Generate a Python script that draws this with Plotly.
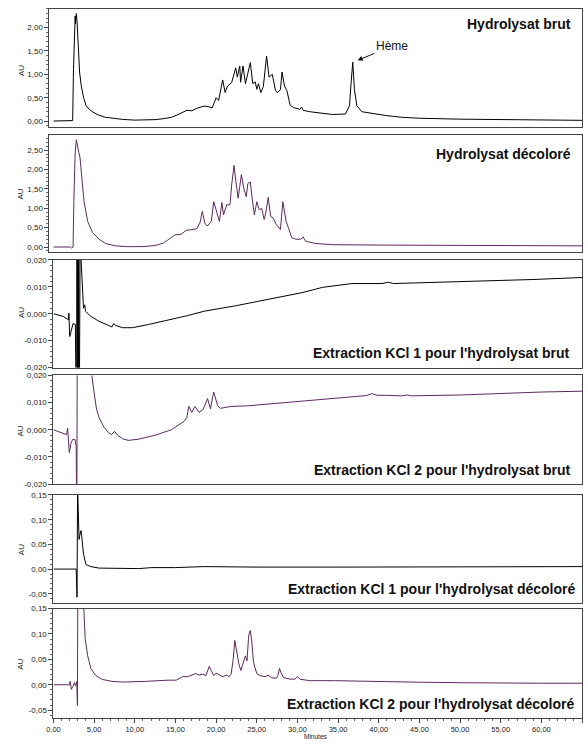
import plotly.graph_objects as go

# ---------------- data ----------------
t1 = [0.0, 2.2, 2.35, 2.45, 2.55, 2.6, 2.63, 2.66, 2.7, 2.74, 2.8, 2.9, 3.0, 3.2, 3.4, 3.7, 4.0, 4.4, 4.85,
      5.5, 6.4, 7.5, 8.5, 10.0, 11.5, 12.5, 13.5, 14.5, 15.2, 15.8, 16.4, 17.0, 17.6, 18.5, 19.0, 19.5, 19.8,
      20.0, 20.3, 20.8, 21.1, 21.4, 21.9, 22.4, 22.6, 22.9, 23.0, 23.3, 23.6, 24.2, 24.5, 24.8, 25.0, 25.2,
      25.5, 25.8, 26.2, 26.5, 26.9, 27.3, 27.5, 27.9, 28.1, 28.4, 28.7, 29.1, 29.5, 30.3, 30.5, 30.7, 31.5,
      32.7, 34.3, 35.9, 36.4, 36.6, 36.8, 37.0, 37.3, 37.9, 39.2, 40.8, 42.8, 45.0, 50.0, 55.0, 60.0, 65.0]
v1 = [0.0, 0.0, 0.01, 1.1, 2.05, 2.22, 2.05, 2.25, 2.08, 2.28, 2.3, 2.1, 1.6, 1.05, 0.76, 0.5, 0.33, 0.25, 0.19,
      0.13, 0.08, 0.05, 0.035, 0.02, 0.02, 0.03, 0.05, 0.08, 0.13, 0.18, 0.23, 0.22, 0.27, 0.32, 0.31, 0.28, 0.42,
      0.5, 0.44, 0.88, 0.61, 0.75, 0.82, 1.14, 0.94, 1.18, 0.83, 1.18, 0.8, 1.25, 0.8, 0.84, 0.68, 0.8,
      0.61, 0.74, 1.39, 0.94, 1.0, 0.65, 0.61, 0.67, 1.05, 0.75, 0.65, 0.34, 0.29, 0.25, 0.3, 0.23, 0.2,
      0.18, 0.14, 0.15, 0.33, 0.83, 1.26, 0.68, 0.33, 0.2, 0.16, 0.12, 0.08, 0.06, 0.04, 0.03, 0.02, 0.015]

t2 = [0.0, 2.1, 2.25, 2.4, 2.5, 2.65, 2.8, 2.95, 3.1, 3.25, 3.5, 3.75, 4.2, 4.8, 5.6, 6.4, 7.6, 9.0, 11.0,
      12.5, 13.5, 14.1, 14.9, 15.7, 16.3, 17.0, 17.6, 18.0, 18.3, 18.6, 18.9, 19.4, 19.7, 20.1, 20.4, 20.7,
      20.9, 21.3, 21.7, 21.9, 22.2, 22.4, 22.7, 22.9, 23.1, 23.4, 23.7, 23.9, 24.2, 24.4, 24.7, 25.0, 25.3,
      25.6, 25.9, 26.1, 26.4, 26.7, 27.0, 27.4, 27.9, 28.2, 28.6, 28.9, 29.3, 29.8, 30.4, 30.7, 31.0, 32.2,
      34.3, 40.0, 50.0, 65.0]
v2 = [0.0, 0.0, -0.03, 0.0, 1.2, 2.4, 2.77, 2.55, 2.45, 2.32, 1.77, 1.17, 0.66, 0.37, 0.2, 0.09, 0.03, 0.01, 0.01,
      0.04, 0.1, 0.2, 0.31, 0.33, 0.43, 0.45, 0.47, 0.62, 0.92, 0.62, 0.54, 0.66, 1.17, 0.88, 0.66, 1.15,
      0.83, 1.09, 1.09, 1.6, 2.11, 1.73, 1.26, 1.56, 1.87, 1.51, 1.3, 1.64, 1.68, 1.3, 0.83, 1.17, 0.96,
      1.0, 0.71, 0.88, 1.28, 0.79, 0.75, 0.58, 0.45, 1.17, 0.66, 0.49, 0.24, 0.2, 0.2, 0.26, 0.15, 0.09,
      0.06, 0.05, 0.04, 0.03]

t3 = [0.0, 0.6, 1.2, 1.7, 1.85, 1.9, 1.95, 2.0, 2.1, 2.2, 2.4, 2.7, 2.85, 2.9, 2.95, 3.0, 3.05, 3.1, 3.15, 3.2,
      3.3, 3.4, 3.6, 3.7, 3.85, 3.95, 4.6, 5.6, 6.8, 7.2, 7.4, 7.7, 8.5, 9.7, 11.7, 14.5, 16.5, 18.5, 20.0,
      22.5, 25.0, 27.5, 30.7, 33.1, 35.0, 36.7, 40.4, 41.2, 41.8, 46.8, 52.8, 58.9, 64.6, 65.0]
v3 = [0.0, -0.0005, -0.001, -0.002, -0.0022, 0.0002, -0.0022, -0.0085, -0.0075, -0.006, -0.0037, -0.004,
      -0.06, 0.06, -0.06, 0.06, -0.06, 0.06, -0.06, 0.06,
      0.04, 0.02, 0.0076, 0.002, 0.0033, 0.0009, -0.001, -0.0028, -0.0044, -0.0049, -0.0037, -0.0044,
      -0.0052, -0.0052, -0.004, -0.0022, -0.0007, 0.0009, 0.0016,
      0.003, 0.0045, 0.006, 0.0079, 0.0098, 0.0105, 0.0112, 0.0112, 0.0117, 0.0112, 0.0116, 0.0122,
      0.0127, 0.0134, 0.0134]

t4 = [0.0, 0.8, 1.6, 1.75, 1.8, 1.95, 2.15, 2.35, 2.65, 2.8, 2.87, 2.95, 4.6, 4.72, 5.0, 5.3, 5.6, 6.2, 6.8,
      7.15, 7.5, 7.9, 8.5, 9.2, 10.4, 12.5, 14.5, 16.1, 16.4, 16.65, 17.0, 17.4, 17.9, 18.4, 18.95, 19.3,
      19.7, 20.2, 20.55, 21.2, 21.8, 23.8, 26.5, 29.1, 32.7, 36.7, 38.5, 39.2, 39.8, 40.8, 42.8, 43.5,
      44.0, 50.0, 55.0, 60.0, 65.0]
v4 = [0.0, -0.0009, -0.0018, 0.0006, -0.002, -0.0084, -0.005, -0.0036, -0.0036, -0.006, -0.04, 0.06, 0.05,
      0.02, 0.0137, 0.0076, 0.0046, 0.001, -0.0011, -0.0018, -0.0006, -0.002, -0.0033, -0.0039, -0.0035,
      -0.002, 0.0, 0.0032, 0.0045, 0.0086, 0.0064, 0.0086, 0.0064, 0.0075, 0.0115, 0.0077, 0.0139,
      0.0088, 0.0079, 0.0082, 0.0086, 0.0088, 0.0095, 0.01, 0.011, 0.0122, 0.0126, 0.0133, 0.0127,
      0.0127, 0.0125, 0.0128, 0.0125, 0.0128, 0.0134, 0.0139, 0.0142]

t5 = [0.0, 2.4, 2.8, 2.9, 2.97, 3.05, 3.15, 3.3, 3.4, 3.5, 3.7, 4.0, 4.6, 5.6, 8.5, 10.5, 12.1, 15.0,
      18.5, 25.0, 35.0, 45.0, 55.0, 65.0]
v5 = [0.0, 0.001, 0.0, -0.057, 0.17, 0.12, 0.06, 0.073, 0.078, 0.063, 0.03, 0.009, 0.005, 0.002, 0.001,
      0.001, 0.003, 0.003, 0.005, 0.004, 0.004, 0.004, 0.004, 0.005]

t6 = [0.0, 2.0, 2.05, 2.2, 2.4, 2.6, 2.7, 2.87, 2.95, 3.0, 3.6, 3.75, 3.9, 4.2, 4.6, 5.2, 6.0, 7.2, 8.5,
      11.3, 12.5, 14.1, 15.1, 15.9, 16.5, 17.1, 17.5, 17.9, 18.3, 18.75, 19.15, 19.4, 19.7, 20.0, 20.4,
      20.8, 21.3, 21.6, 21.85, 22.1, 22.3, 22.5, 22.8, 23.05, 23.4, 23.6, 23.8, 24.0, 24.2, 24.4, 24.6,
      25.0, 25.4, 26.0, 26.4, 26.8, 27.4, 27.6, 27.8, 28.0, 28.3, 29.1, 29.7, 30.0, 30.3, 31.5, 34.7,
      39.9, 45.0, 50.0, 55.0, 60.0, 65.0]
v6 = [0.0, 0.0, 0.0066, -0.009, -0.003, 0.004, -0.002, 0.0066, -0.041, 0.2, 0.2, 0.124, 0.091, 0.058,
      0.032, 0.018, 0.0105, 0.0066, 0.0053, 0.0066, 0.008, 0.009, 0.009, 0.016, 0.016, 0.02, 0.022,
      0.019, 0.021, 0.018, 0.036, 0.028, 0.018, 0.023, 0.019, 0.016, 0.019, 0.016, 0.021, 0.05, 0.087,
      0.07, 0.041, 0.028, 0.044, 0.057, 0.047, 0.096, 0.107, 0.084, 0.044, 0.022, 0.018, 0.016, 0.019,
      0.014, 0.0125, 0.018, 0.032, 0.023, 0.014, 0.011, 0.011, 0.016, 0.011, 0.008, 0.008, 0.006,
      0.005, 0.004, 0.003, 0.003, 0.003]

panel_titles = ["Hydrolysat brut", "Hydrolysat décoloré",
                "Extraction KCl 1 pour l'hydrolysat brut", "Extraction KCl 2 pour l'hydrolysat brut",
                "Extraction KCl 1 pour l'hydrolysat décoloré", "Extraction KCl 2 pour l'hydrolysat décoloré"]

x_tickvals = [0, 5, 10, 15, 20, 25, 30, 35, 40, 45, 50, 55, 60, 65]
x_ticktext = ["0,00", "5,00", "10,00", "15,00", "20,00", "25,00", "30,00", "35,00", "40,00",
              "45,00", "50,00", "55,00", "60,00", "65,00"]

y1_vals = [0, 0.5, 1.0, 1.5, 2.0]
y1_text = ["0,00", "0,50", "1,00", "1,50", "2,00"]
y2_vals = [0, 0.5, 1.0, 1.5, 2.0, 2.5]
y2_text = ["0,00", "0,50", "1,00", "1,50", "2,00", "2,50"]
y34_vals = [-0.02, -0.01, 0.0, 0.01, 0.02]
y34_text = ["-0,020", "-0,010", "0,000", "0,010", "0,020"]
y56_vals = [-0.05, 0.0, 0.05, 0.10, 0.15]
y56_text = ["-0,05", "0,00", "0,05", "0,10", "0,15"]

# ---------------- layout constants ----------------
W, H = 588, 744
BLACK = "#000000"
PURPLE = "#5b2a5e"
FONT = "Liberation Sans, Arial, sans-serif"

# pixel geometry of each panel: (top, bottom, left, y-range, minor dtick, tickvals, ticktext, x-range)
panels = [
    (5, 125, 43, [-0.138, 2.40], 0.1, y1_vals, y1_text, [-0.5, 65]),
    (133, 251, 43, [-0.128, 2.883], 0.1, y2_vals, y2_text, [-0.5, 65]),
    (259, 368, 47, [-0.02, 0.02], 0.002, y34_vals, y34_text, [0, 65]),
    (376, 486, 47, [-0.02, 0.02], 0.002, y34_vals, y34_text, [0, 65]),
    (497, 606, 47, [-0.068, 0.15], 0.01, y56_vals, y56_text, [0, 65]),
    (612, 723, 47, [-0.066, 0.15], 0.01, y56_vals, y56_text, [0, 65]),
]
RIGHT = 582
series = [(t1, v1, BLACK), (t2, v2, PURPLE), (t3, v3, BLACK), (t4, v4, PURPLE), (t5, v5, BLACK), (t6, v6, PURPLE)]

fig = go.Figure()
layout = dict(
    width=W, height=H, margin=dict(l=0, r=0, t=0, b=0),
    paper_bgcolor="white", plot_bgcolor="white", showlegend=False,
    font=dict(family=FONT, color="#222222"),
)
annotations = []

title_pos = [(20, 573), (152, 573), (353, 571), (472, 572), (592, 577), (709, 576)]
au_pos = [67, 192, 312, 432, 552, 668]

for i, ((top, bot, left, yr, mdt, tv, tt, xr), (tx, vy, col)) in enumerate(zip(panels, series)):
    n = i + 1
    xa = "x" if n == 1 else f"x{n}"
    ya = "y" if n == 1 else f"y{n}"
    fig.add_trace(go.Scatter(x=tx, y=vy, mode="lines", line=dict(color=col, width=1),
                             xaxis=xa, yaxis=ya, hoverinfo="skip"))
    is_bottom = (n == 6)
    xaxis = dict(
        domain=[left / W, RIGHT / W], range=xr, anchor=ya,
        showgrid=False, zeroline=False, showline=True, mirror=True,
        linecolor="#444444", linewidth=1,
    )
    if is_bottom:
        xaxis.update(tickmode="array", tickvals=x_tickvals, ticktext=x_ticktext,
                     ticks="outside", ticklen=4, tickcolor="#444444",
                     tickfont=dict(size=7.5, family=FONT, color="#222222"),
                     minor=dict(ticks="outside", ticklen=2, dtick=1, tickcolor="#666666"))
    else:
        xaxis.update(showticklabels=False, ticks="")
    yaxis = dict(
        domain=[1 - bot / H, 1 - top / H], range=yr, anchor=xa,
        showgrid=False, zeroline=False, showline=True, mirror=True,
        linecolor="#444444", linewidth=1,
        tickmode="array", tickvals=tv, ticktext=tt,
        ticks="outside", ticklen=4, tickcolor="#444444",
        tickfont=dict(size=8, family=FONT, color="#222222"),
        minor=dict(ticks="outside", ticklen=2, dtick=mdt, tickcolor="#666666"),
    )
    layout["xaxis" if n == 1 else f"xaxis{n}"] = xaxis
    layout["yaxis" if n == 1 else f"yaxis{n}"] = yaxis

    ty, tr = title_pos[i]
    annotations.append(dict(text=f"<b>{panel_titles[i]}</b>", xref="paper", yref="paper",
                            x=tr / W, y=1 - ty / H, xanchor="right", yanchor="middle",
                            showarrow=False, font=dict(size=14, family=FONT, color="#111111")))
    annotations.append(dict(text="AU", xref="paper", yref="paper", x=14 / W, y=1 - au_pos[i] / H,
                            xanchor="center", yanchor="middle", textangle=-90, showarrow=False,
                            font=dict(size=8, family=FONT, color="#222222")))

annotations.append(dict(text="Hème", xref="x", yref="y", x=37.4, y=1.30, ax=34, ay=-14,
                        showarrow=True, arrowhead=2, arrowsize=1, arrowwidth=1, arrowcolor="#111111",
                        font=dict(size=12, family=FONT, color="#111111")))
annotations.append(dict(text="Minutes", xref="paper", yref="paper", x=313 / W, y=1 - 741 / H,
                        xanchor="center", yanchor="middle", showarrow=False,
                        font=dict(size=6.5, family=FONT, color="#222222")))

layout["annotations"] = annotations
fig.update_layout(**layout)
fig.write_html("out.html")
